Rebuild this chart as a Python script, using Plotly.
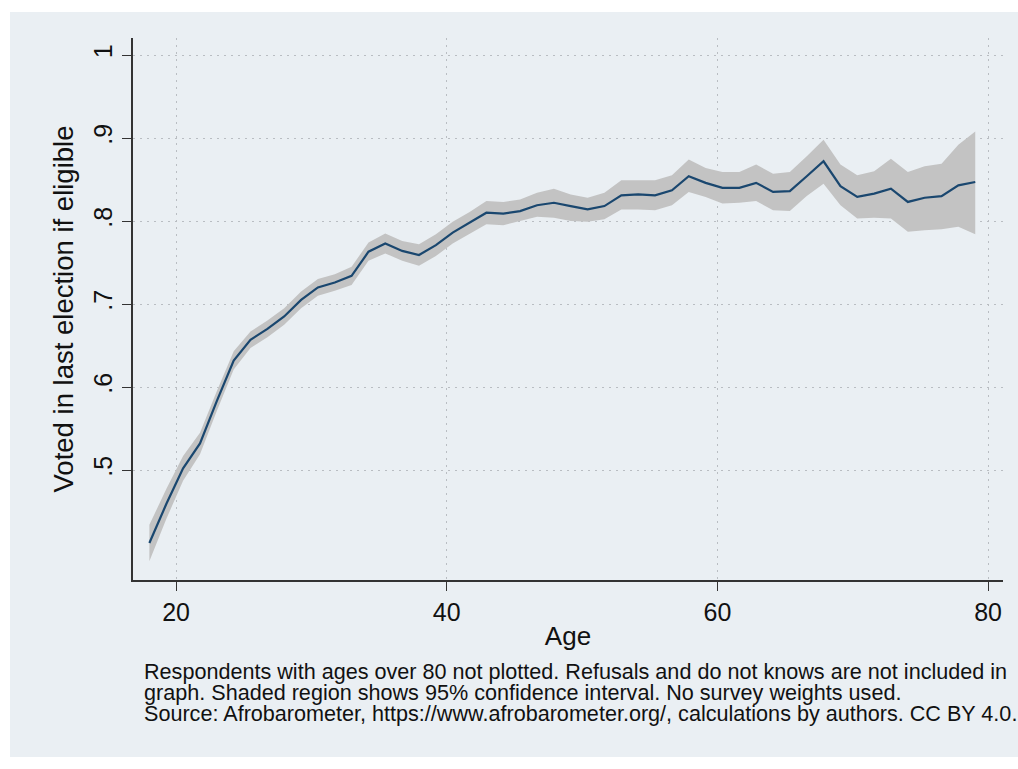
import plotly.graph_objects as go

# Age positions of plotted points
ages = [18.03, 19.28, 20.52, 21.77, 23.01, 24.26, 25.50, 26.75, 27.99, 29.24,
        30.48, 31.73, 32.97, 34.22, 35.46, 36.71, 37.95, 39.20, 40.44, 41.69,
        42.93, 44.18, 45.42, 46.67, 47.92, 49.16, 50.41, 51.65, 52.90, 54.15,
        55.39, 56.64, 57.88, 59.13, 60.37, 61.62, 62.86, 64.11, 65.35, 66.60,
        67.84, 69.09, 70.33, 71.58, 72.82, 74.07, 75.31, 76.56, 77.80, 79.05]

voted = [.412, .459, .502, .532, .583, .632, .657, .670, .685, .705,
         .720, .726, .734, .763, .773, .764, .759, .771, .786, .798,
         .810, .809, .812, .819, .822, .818, .814, .818, .831, .832,
         .831, .837, .854, .846, .840, .840, .846, .835, .836, .854,
         .872, .842, .829, .833, .839, .823, .828, .830, .843, .847]

ci_upper = [.434, .477, .517, .545, .595, .643, .667, .680, .695, .715,
            .730, .736, .745, .774, .785, .776, .772, .784, .799, .811,
            .824, .823, .826, .834, .839, .832, .828, .834, .849, .849,
            .849, .855, .874, .864, .859, .859, .868, .857, .859, .878,
            .898, .868, .855, .860, .875, .859, .866, .869, .892, .908]

ci_lower = [.390, .441, .487, .519, .571, .621, .647, .660, .675, .695,
            .710, .716, .723, .752, .761, .752, .746, .758, .773, .785,
            .796, .795, .800, .805, .804, .800, .799, .802, .814, .814,
            .813, .819, .835, .829, .821, .822, .824, .813, .812, .830,
            .845, .819, .803, .804, .803, .787, .789, .790, .793, .784]

x_ticks = [20, 40, 60, 80]
x_tick_labels = ["20", "40", "60", "80"]
y_ticks = [0.5, 0.6, 0.7, 0.8, 0.9, 1.0]
y_tick_labels = [".5", ".6", ".7", ".8", ".9", "1"]

caption_lines = [
    "Respondents with ages over 80 not plotted. Refusals and do not knows are not included in",
    "graph. Shaded region shows 95% confidence interval. No survey weights used.",
    "Source: Afrobarometer, https://www.afrobarometer.org/, calculations by authors. CC BY 4.0.",
]

BG = "#eaeff3"
FONT = "Arial, Liberation Sans, sans-serif"

fig = go.Figure()
fig.add_trace(go.Scatter(x=ages, y=ci_lower, mode="lines", line=dict(width=0),
                         showlegend=False, hoverinfo="skip"))
fig.add_trace(go.Scatter(x=ages, y=ci_upper, mode="lines", line=dict(width=0),
                         fill="tonexty", fillcolor="#c3c3c3",
                         showlegend=False, hoverinfo="skip"))
fig.add_trace(go.Scatter(x=ages, y=voted, mode="lines",
                         line=dict(color="#1a476f", width=2.2),
                         showlegend=False))

W, H = 1018, 769
L, T = 133, 38
pw, ph = 870, 542
R = W - L - pw
B = H - T - ph

def px_x(x):
    return (x - L) / pw

def px_y(y):
    return (T + ph - y) / ph

fig.add_shape(type="rect", xref="paper", yref="paper",
              x0=px_x(10), x1=px_x(1030), y0=px_y(757), y1=px_y(12),
              fillcolor=BG, line=dict(width=0), layer="below")

caption_y = [671, 692, 713]
for txt, yy in zip(caption_lines, caption_y):
    fig.add_annotation(text=txt, xref="paper", yref="paper",
                       x=px_x(142), y=px_y(yy), xanchor="left", yanchor="middle",
                       showarrow=False, font=dict(family=FONT, size=21.6, color="#111111"))

fig.update_layout(
    width=W, height=H,
    margin=dict(l=L, r=R, t=T, b=B, pad=0),
    paper_bgcolor="white",
    plot_bgcolor=BG,
    font=dict(family=FONT, color="#111111"),
    showlegend=False,
)
fig.update_xaxes(
    range=[16.82, 81.1],
    tickvals=x_ticks, ticktext=x_tick_labels,
    ticks="outside", ticklen=9, tickwidth=1.2, tickcolor="#333333",
    tickfont=dict(size=25, family=FONT, color="#111111"),
    showline=True, linecolor="#333333", linewidth=1.5,
    showgrid=True, gridcolor="#b9bdc2", griddash="2px,5px", gridwidth=1,
    zeroline=False,
    title=dict(text="Age", font=dict(size=26, family=FONT, color="#111111"), standoff=2),
)
fig.update_yaxes(
    range=[0.3675, 1.0205],
    tickvals=y_ticks, ticktext=y_tick_labels, tickangle=-90,
    ticks="outside", ticklen=9, tickwidth=1.2, tickcolor="#333333",
    tickfont=dict(size=25, family=FONT, color="#111111"),
    showline=True, linecolor="#333333", linewidth=1.5,
    showgrid=True, gridcolor="#b9bdc2", griddash="2px,5px", gridwidth=1,
    zeroline=False,
    title=dict(text="Voted in last election if eligible",
               font=dict(size=27.5, family=FONT, color="#111111"), standoff=8),
)

fig.write_html("out.html", config={"displayModeBar": False},
               post_script="document.body.style.margin='0px';")
